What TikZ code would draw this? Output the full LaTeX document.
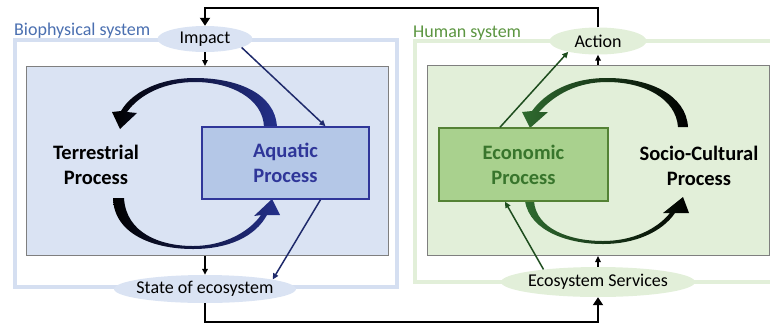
\documentclass[tikz,border=0pt]{standalone}
\usepackage{fontspec}
\setmainfont{Carlito}
\usetikzlibrary{arrows.meta,shapes.geometric}
\definecolor{bluelt}{HTML}{DAE3F3}
\definecolor{bioframe}{HTML}{D5DFF1}
\definecolor{bluemid}{HTML}{B4C7E7}
\definecolor{bluedk}{HTML}{2F3699}
\definecolor{navy}{HTML}{1F2A6B}
\definecolor{arcblue}{HTML}{24308A}
\definecolor{arcbluemid}{HTML}{5A66AA}
\definecolor{biotxt}{HTML}{4A6FB0}
\definecolor{greenlt}{HTML}{E2EFD9}
\definecolor{greenmid}{HTML}{A9D18E}
\definecolor{greenbd}{HTML}{548235}
\definecolor{greentxt}{HTML}{38752C}
\definecolor{greendk}{HTML}{1E4D1E}
\definecolor{arcgreen}{HTML}{2F6B2F}
\definecolor{arcgreenmid}{HTML}{6A9A60}
\definecolor{humtxt}{HTML}{5B9540}
\definecolor{boxgray}{HTML}{7F7F7F}
\begin{document}
\begin{tikzpicture}[x=1pt,y=-1pt,
  small/.style={font=\fontsize{18}{21}\selectfont},
  big/.style={font=\fontsize{20.5}{25}\selectfont\bfseries, align=center},
  oval/.style={ellipse, inner sep=0pt, small},
  conn/.style={line width=1.5pt, -{Triangle[length=6pt,width=5.5pt]}},
  loopline/.style={line width=2.2pt, -{Triangle[length=8pt,width=10pt]}},
  procbox/.style={line width=1.5pt, inner sep=0pt, big}
]
\useasboundingbox (0,0) rectangle (770,325);

% outer frames
\draw[bioframe, line width=4pt] (15,40) rectangle (397,287);
\draw[greenlt, line width=4pt] (770,41) -- (415,41) -- (415,282) -- (770,282);

% labels
\node[small, text=biotxt, anchor=base west, inner sep=0pt] (biolabel) at (14,35) {Biophysical system};
\node[small, text=humtxt, anchor=base west, inner sep=0pt] (humlabel) at (413,37) {Human system};

% inner boxes
\node[draw=boxgray, fill=bluelt, line width=1pt, minimum width=362pt, minimum height=189pt, inner sep=0pt, anchor=north west] (bioinner) at (26,66) {};
\node[draw=boxgray, fill=greenlt, line width=1pt, minimum width=342pt, minimum height=190pt, inner sep=0pt, anchor=north west] (huminner) at (427,65) {};

% ellipses
\node[oval, fill=bluelt, minimum width=95pt, minimum height=26pt] (impact) at (205,39) {\makebox[0pt]{Impact}};
\node[oval, fill=bluelt, minimum width=182pt, minimum height=28pt] (state) at (205,289) {\makebox[0pt]{State of ecosystem}};
\node[oval, fill=greenlt, minimum width=97pt, minimum height=27pt] (action) at (598,41) {\makebox[0pt]{Action}};
\node[oval, fill=greenlt, minimum width=194pt, minimum height=30pt] (es) at (598,282) {\makebox[0pt]{Ecosystem Services}};

% curved arrows (biophysical)
\shade[left color=black, middle color=arcbluemid, right color=arcblue]
  (277,127) .. controls (275,92) and (235,78) .. (195,78)
  .. controls (160,78) and (132,92) .. (121,111)
  -- (112,112) -- (120,129) -- (137,113) -- (127,112)
  .. controls (140,94) and (165,82) .. (195,82)
  .. controls (230,82) and (263,98) .. (264,127) -- cycle;
\shade[left color=black, middle color=arcbluemid, right color=arcblue]
  (113,198) .. controls (114,235) and (155,249) .. (193,249)
  .. controls (228,249) and (255,237) .. (267,215)
  -- (280,215) -- (272,199) -- (254,216) -- (261,215)
  .. controls (250,231) and (225,246) .. (193,246)
  .. controls (160,246) and (126,233) .. (124,198) -- cycle;

% curved arrows (human)
\shade[left color=arcgreen, middle color=arcgreenmid, right color=black]
  (688,127) .. controls (686,95) and (650,78) .. (607,78)
  .. controls (570,78) and (545,93) .. (532,111)
  -- (522,112) -- (530,128) -- (548,112) -- (539,112)
  .. controls (555,94) and (578,82) .. (607,82)
  .. controls (645,82) and (676,99) .. (678,127) -- cycle;
\shade[left color=arcgreen, middle color=arcgreenmid, right color=black]
  (525,201) .. controls (530,232) and (570,244) .. (603,244)
  .. controls (635,244) and (662,232) .. (675,213)
  -- (689,213) -- (683,197) -- (663,213) -- (670,213)
  .. controls (657,229) and (633,241) .. (603,241)
  .. controls (570,241) and (536,229) .. (534,201) -- cycle;

% process boxes and texts
\node[procbox, draw=bluedk, fill=bluemid, text=bluedk, minimum width=167pt, minimum height=72pt] (aquatic) at (285.5,163) {Aquatic\\Process};
\node[procbox, draw=greenbd, fill=greenmid, text=greentxt, minimum width=169pt, minimum height=73pt] (economic) at (523.5,164.5) {Economic\\Process};
\node[big] (terr) at (96,165) {Terrestrial\\Process};
\node[big] (socio) at (699,166) {Socio-Cultural\\Process};

% main loop
\coordinate (topy) at (0,8);
\coordinate (boty) at (0,322);
\draw[loopline] (action.north) -- (action.north |- topy) -| (impact.north);
\draw[loopline] (state.south) -- (state.south |- boty) -| (es.south);

% short connectors
\draw[conn] (impact.south) -- (impact.south |- bioinner.north);
\draw[conn] (impact.south |- bioinner.south) -- (state.north);
\draw[conn] (es.north) -- (es.north |- huminner.south);
\draw[conn] (action.south |- huminner.north) -- (action.south);

% diagonal connectors
\draw[conn, navy] (impact.-13) -- ([xshift=40pt]aquatic.north);
\draw[conn, navy] ([xshift=35pt]aquatic.south) -- (state.8);
\draw[conn, greendk] ([xshift=-23.5pt]economic.north) -- (action.200);
\draw[conn, greendk] (es.167) -- ([xshift=-18.5pt]economic.south);
\end{tikzpicture}
\end{document}
